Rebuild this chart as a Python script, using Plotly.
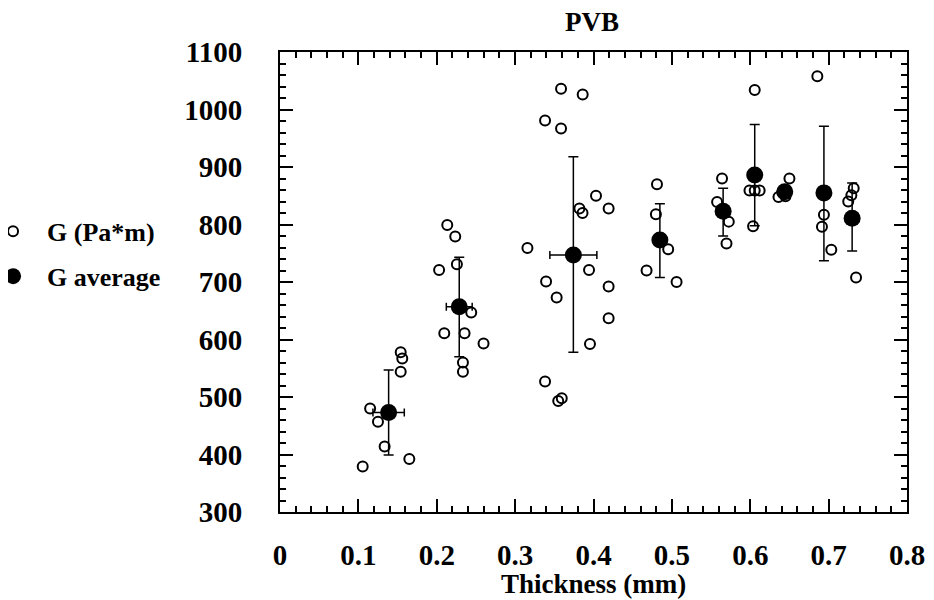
import plotly.graph_objects as go

# Individual measurements G (Pa*m)
open_x = [0.1055, 0.115, 0.125, 0.1335, 0.165, 0.154, 0.156, 0.154,
          0.2134, 0.2236, 0.203, 0.2257, 0.244, 0.2096, 0.2355, 0.2597, 0.2334, 0.2334,
          0.3586, 0.3862, 0.3382, 0.3586, 0.3157, 0.3395, 0.353, 0.3382, 0.355, 0.3595,
          0.382, 0.386, 0.4032, 0.4193, 0.3943, 0.4193, 0.4193, 0.3955,
          0.481, 0.4796, 0.4953, 0.4677, 0.506,
          0.564, 0.5577, 0.5726, 0.5697,
          0.6057, 0.599, 0.6057, 0.612, 0.6036,
          0.650, 0.636, 0.645, 0.641,
          0.6856, 0.694, 0.6915, 0.7034,
          0.732, 0.729, 0.725, 0.735]
open_y = [379, 480, 457, 414, 392, 578, 567, 544,
          799, 779, 721, 731, 647, 611, 611, 593, 560, 544,
          1036, 1026, 981, 967, 759, 701, 673, 527, 493, 498,
          828, 820, 850, 828, 721, 692, 637, 592,
          870, 818, 757, 720, 700,
          880, 839, 805, 767,
          1034, 859, 859, 859, 797,
          880, 848, 849, 856,
          1058, 817, 796, 756,
          863, 851, 840, 708]

# Averages
avg_x = [0.1386, 0.2287, 0.3743, 0.4847, 0.5654, 0.6057, 0.644, 0.694, 0.730]
avg_y = [473, 657, 747, 773, 823, 886, 857, 855, 811]
err_y_plus = [74, 86, 171, 63, 40, 88, 10, 116, 61]
err_y_minus = [74, 87, 169, 65, 43, 88, 10, 118, 57]
err_x = [0.02, 0.0165, 0.03, 0.006, 0.006, 0.006, 0.006, 0.006, 0.006]

FONT = "Liberation Serif"

fig = go.Figure()
fig.add_trace(go.Scatter(
    x=open_x, y=open_y, mode="markers", name="G (Pa*m)",
    legendgroup="a",
    marker=dict(symbol="circle-open", size=10, color="black", line=dict(width=2, color="black")),
))
fig.add_trace(go.Scatter(
    x=avg_x, y=avg_y, mode="markers", name="G average",
    legendgroup="b",
    marker=dict(symbol="circle", size=17, color="black"),
    error_y=dict(type="data", symmetric=False, array=err_y_plus, arrayminus=err_y_minus,
                 color="black", thickness=1.5, width=5),
    error_x=dict(type="data", array=err_x, color="black", thickness=1.5, width=4),
))

axis_common = dict(
    showgrid=False, zeroline=False, showline=True, linecolor="black", linewidth=2,
    mirror="ticks", ticks="inside", ticklen=13, tickwidth=1.5, tickcolor="black",
    tickfont=dict(family=FONT, size=29, color="black", weight="bold"),
    automargin=False,
)

fig.update_xaxes(range=[0, 0.8], dtick=0.1, tick0=0, tickformat="~g",
                 minor=dict(dtick=0.02, ticks="inside", ticklen=6, tickwidth=1.5, tickcolor="black"),
                 ticklabelstandoff=16, **axis_common)
fig.update_yaxes(range=[300, 1100], dtick=100, tick0=300,
                 minor=dict(dtick=20, ticks="inside", ticklen=6, tickwidth=1.5, tickcolor="black"),
                 ticklabelstandoff=30, **axis_common)

# page body has an 8 px margin, so the figure is drawn 8 px right/down
fig.update_layout(
    width=926, height=592,
    margin=dict(l=271.5, r=26.5, t=44, b=88, autoexpand=False),
    plot_bgcolor="white", paper_bgcolor="white",
    title=dict(text="PVB", x=584 / 926, xanchor="center", y=1 - 14 / 592, yanchor="middle",
               font=dict(family=FONT, size=27, color="black", weight="bold")),
    showlegend=True,
    legend=dict(x=-0.480, xanchor="left", y=0.661, yanchor="top",
                font=dict(family=FONT, size=26, color="black", weight="bold"),
                bgcolor="rgba(0,0,0,0)", tracegroupgap=8, itemwidth=58),
    annotations=[dict(text="Thickness (mm)", xref="paper", yref="paper",
                      x=0.5, y=(512 - 584) / 460, xanchor="center", yanchor="middle",
                      showarrow=False,
                      font=dict(family=FONT, size=27, color="black", weight="bold"))],
)

fig.write_html("out.html")
